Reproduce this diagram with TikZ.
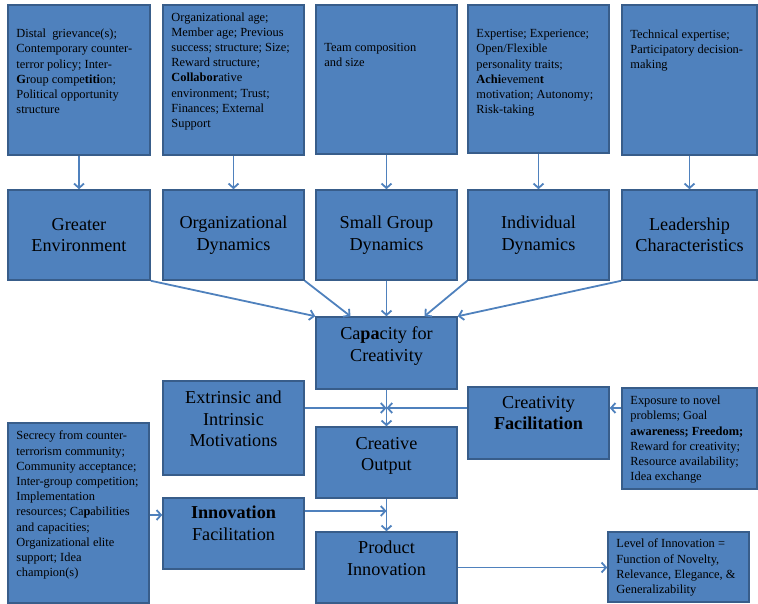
\documentclass[tikz,border=0pt]{standalone}
\usepackage{fontspec}
\setmainfont{Liberation Serif}
\usetikzlibrary{arrows.meta}
\definecolor{boxblue}{RGB}{79,129,189}
\definecolor{boxline}{RGB}{56,93,138}
\definecolor{arrowblue}{RGB}{79,129,189}
\tikzset{
  box/.style={draw=boxline, fill=boxblue, line width=1.5pt, inner sep=0pt},
  smalltext/.style={align=left, inner sep=0pt, anchor=north west, font=\fontsize{12.4}{15.2}\selectfont},
  bigtext/.style={align=center, inner sep=0pt, font=\fontsize{18.2}{21.5}\selectfont},
  flow/.style={draw=arrowblue, line width=1.8pt, -{Straight Barb[length=4.5pt,width=10pt]}}
}

\begin{document}
\begin{tikzpicture}[x=1pt, y=-1pt]
  \useasboundingbox (0,0) rectangle (758,604);

  % factor boxes (top row)
  \node[box, minimum width=142pt, minimum height=150pt] (env-f) at (79,80) {};
  \node[box, minimum width=141pt, minimum height=150pt] (org-f) at (233.5,80) {};
  \node[box, minimum width=141pt, minimum height=149pt] (grp-f) at (386.5,79.5) {};
  \node[box, minimum width=141pt, minimum height=148pt] (ind-f) at (538.5,79) {};
  \node[box, minimum width=135pt, minimum height=150pt] (lead-f) at (689.5,80) {};

  \node[smalltext] (env-t) at ([shift={(9,24.7)}]env-f.north west)
    {Distal~ grievance(s);\\Contemporary counter-\\terror policy; Inter-\\\textbf{G}roup compe\textbf{titi}on;\\Political opportunity\\structure};
  \node[smalltext] (org-t) at ([shift={(9,8)}]org-f.north west)
    {Organizational age;\\Member age; Previous\\success; structure; Size;\\Reward structure;\\\textbf{Collabor}ative\\environment; Trust;\\Finances; External\\Support};
  \node[smalltext] (grp-t) at ([shift={(9,38.5)}]grp-f.north west)
    {Team composition\\and size};
  \node[smalltext] (ind-t) at ([shift={(9,25)}]ind-f.north west)
    {Expertise; Experience;\\Open/Flexible\\personality traits;\\\textbf{Achi}evemen\textbf{t}\\motivation; Autonomy;\\Risk-taking};
  \node[smalltext] (lead-t) at ([shift={(9,25.4)}]lead-f.north west)
    {Technical expertise;\\Participatory decision-\\making};

  % dynamics (second row)
  \node[box, bigtext, minimum width=142pt, minimum height=90pt] (env) at (79,235) {Greater\\Environment};
  \node[box, bigtext, minimum width=141pt, minimum height=90pt] (org) at (233.5,235) {Organizational\\Dynamics};
  \node[box, bigtext, minimum width=141pt, minimum height=90pt] (grp) at (386.5,235) {Small Group\\Dynamics};
  \node[box, bigtext, minimum width=141pt, minimum height=90pt] (ind) at (538.5,235) {Individual\\Dynamics};
  \node[box, bigtext, minimum width=135pt, minimum height=90pt] (lead) at (689.5,235) {Leadership\\Characteristics};

  % creativity and innovation
  \node[box, minimum width=141pt, minimum height=72pt] (cap) at (386.5,353) {};
  \node[bigtext, anchor=north] (cap-t) at ([shift={(0,10.6)}]cap.north) {Ca\textbf{pa}city for\\Creativity};
  \node[box, minimum width=141pt, minimum height=94pt] (ext) at (233.5,428) {};
  \node[bigtext, anchor=north] (ext-t) at ([shift={(0,10.6)}]ext.north) {Extrinsic and\\Intrinsic\\Motivations};
  \node[box, minimum width=141pt, minimum height=71pt] (out) at (386.5,462.5) {};
  \node[bigtext, anchor=north] (out-t) at ([shift={(0,10.6)}]out.north) {Creative\\Output};
  \node[box, minimum width=141pt, minimum height=72pt] (cf) at (538.5,423) {};
  \node[bigtext, anchor=north] (cf-t) at ([shift={(0,9.6)}]cf.north) {Creativity\\\textbf{Facilitation}};
  \node[box, minimum width=135pt, minimum height=101pt] (expo) at (689.5,438.5) {};
  \node[smalltext] (expo-t) at ([shift={(9,8.7)}]expo.north west)
    {Exposure to novel\\problems; Goal\\\textbf{awareness; Freedom;}\\Reward for creativity;\\Resource availability;\\Idea exchange};

  \node[box, minimum width=141pt, minimum height=180pt] (sec) at (78.5,513) {};
  \node[smalltext] (sec-t) at ([shift={(9,8.7)}]sec.north west)
    {Secrecy from counter-\\terrorism community;\\Community acceptance;\\Inter-group competition;\\Implementation\\resources; Ca\textbf{p}abilities\\and capacities;\\Organizational elite\\support; Idea\\champion(s)};
  \node[box, minimum width=141pt, minimum height=71pt] (inf) at (233.5,533.5) {};
  \node[bigtext, anchor=north] (inf-t) at ([shift={(0,8.6)}]inf.north) {\textbf{Innovation}\\Facilitation};
  \node[box, minimum width=141pt, minimum height=71pt] (prod) at (386.5,567.5) {};
  \node[bigtext, anchor=north] (prod-t) at ([shift={(0,9.6)}]prod.north) {Product\\Innovation};
  \node[box, minimum width=141pt, minimum height=70pt] (level) at (678.5,567) {};
  \node[smalltext] (level-t) at ([shift={(9,7.7)}]level.north west)
    {Level of Innovation =\\Function of Novelty,\\Relevance, Elegance, \&\\Generalizability};

  % connectors
  \foreach \a/\b in {env-f/env, org-f/org, grp-f/grp, ind-f/ind, lead-f/lead}
    \draw[flow] (\a) -- (\b);
  \draw[flow] (env.south east) -- (cap.north west);
  \draw[flow] (org.south east) -- ([shift={(-36,0)}]cap.north);
  \draw[flow] (grp) -- (cap);
  \draw[flow] (ind.south west) -- ([shift={(38,0)}]cap.north);
  \draw[flow] (lead.south west) -- (cap.north east);
  \draw[flow] (cap) -- (out);
  \coordinate (meet) at (386.5,408);
  \draw[flow] (ext.east |- meet) -- (meet);
  \draw[flow] (cf.west |- meet) -- (meet);
  \draw[flow] (expo.west |- meet) -- (cf.east |- meet);
  \draw[flow] (out) -- (prod);
  \coordinate (join) at (386.5,511);
  \draw[flow] (inf.east |- join) -- (join);
  \coordinate (sec-out) at ([shift={(0,2)}]sec.east);
  \draw[flow] (sec-out) -- (sec-out -| inf.west);
  \draw[flow] (prod.east) -- (prod.east -| level.west);
\end{tikzpicture}
\end{document}
